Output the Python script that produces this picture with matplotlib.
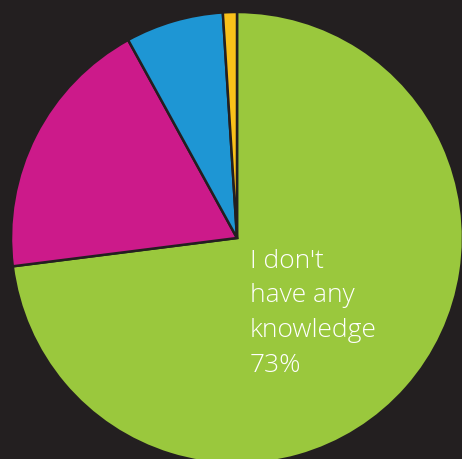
import matplotlib.pyplot as plt

categories = ["I don't have any knowledge", "Some knowledge", "Good knowledge", "Expert knowledge"]
shares = [73, 19, 7, 1]
colors = ["#9AC83D", "#CC1A8A", "#1E96D4", "#F9C11A"]
bg = "#231F20"

W, H, DPI = 462, 460, 100
fig = plt.figure(figsize=(W / DPI, H / DPI), dpi=DPI, facecolor=bg)
ax = fig.add_axes([0, 0, 1, 1])
ax.set_facecolor(bg)

ax.pie(shares, colors=colors, startangle=90, counterclock=False, radius=1.0,
       wedgeprops=dict(edgecolor=bg, linewidth=1.8))

# pixel-based layout: centre at (237, 239) from top-left, radius 226 px
cx, cy, r = 237, 239, 226
ax.set_aspect('auto')
ax.set_xlim(-cx / r, (W - cx) / r)
ax.set_ylim(-(H - cy) / r, cy / r)
ax.axis('off')

label = "I don't\nhave any\nknowledge\n%d%%" % shares[0]
ax.text((250 - cx) / r, (cy - 249) / r, label, color="white", fontsize=19,
        family="Open Sans", fontweight="light", ha="left", va="top", linespacing=1.5)

fig.savefig("out.png", dpi=DPI, facecolor=bg)
